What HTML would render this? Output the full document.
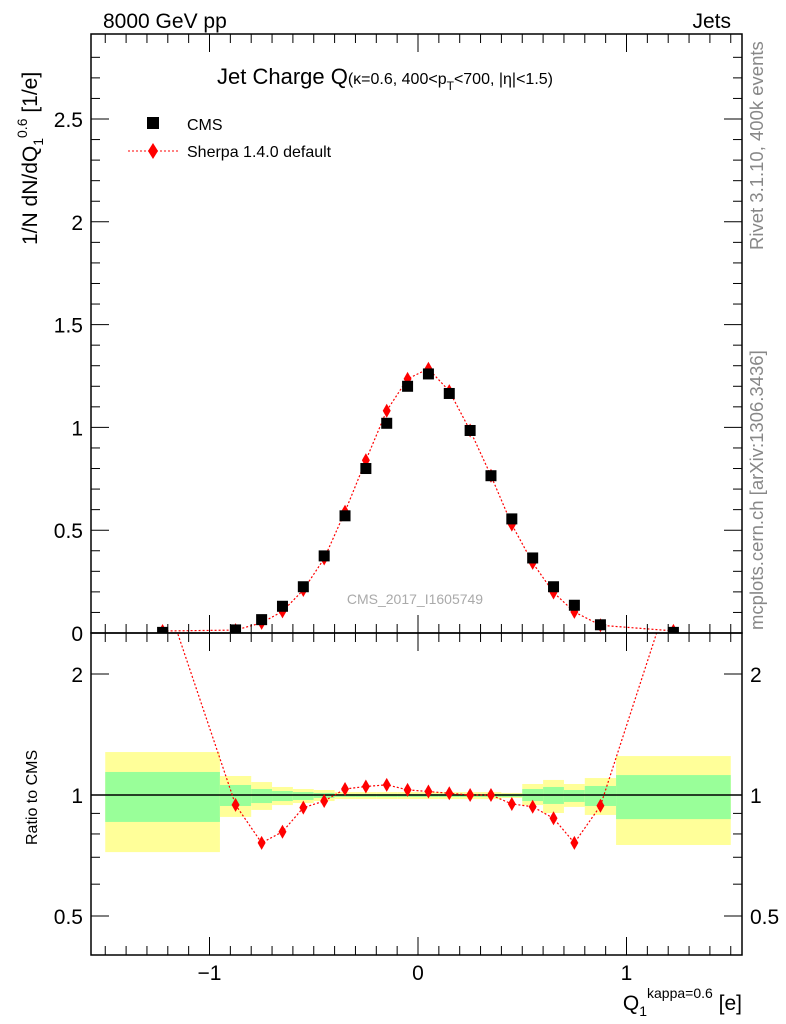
<!DOCTYPE html>
<html><head><meta charset="utf-8"><style>
body{margin:0;background:#fff;}
svg{display:block;font-family:"Liberation Sans",sans-serif;}
</style></head><body>
<svg id="c" width="786" height="1024" viewBox="0 0 786 1024">
<text x="103" y="28" font-size="21">8000 GeV pp</text>
<text x="731" y="28" font-size="21" text-anchor="end">Jets</text>
<text x="217" y="84" font-size="22">Jet Charge Q<tspan font-size="16">(κ=0.6, 400&lt;p</tspan><tspan font-size="12" dy="6">T</tspan><tspan font-size="16" dy="-6">&lt;700, |η|&lt;1.5)</tspan></text>
<text transform="translate(37,245) rotate(-90)" font-size="21">1/N dN/dQ<tspan font-size="14" dy="6">1</tspan><tspan font-size="14" dy="-16">0.6</tspan><tspan dy="10"> [1/e]</tspan></text>
<text transform="translate(37,845) rotate(-90)" font-size="16">Ratio to CMS</text>
<text transform="translate(763,250) rotate(-90)" font-size="18.5" fill="#888">Rivet 3.1.10,  400k events</text>
<text transform="translate(763,630) rotate(-90)" font-size="18.5" fill="#888">mcplots.cern.ch [arXiv:1306.3436]</text>
<text x="415" y="604" font-size="14" fill="#aaa" text-anchor="middle">CMS_2017_I1605749</text>
<text x="742" y="1010" font-size="21" text-anchor="end">Q<tspan font-size="14" dy="6">1</tspan><tspan font-size="14" dy="-18">kappa=0.6</tspan><tspan dy="12"> [e]</tspan></text>
<g>
<rect x="147" y="117" width="12" height="12" fill="#000"/>
<text x="187" y="130" font-size="16">CMS</text>
<line x1="128" y1="151" x2="178" y2="151" stroke="red" stroke-dasharray="2,2"/>
<polygon points="153,143 158,151 153,159 148,151" fill="red"/>
<text x="187" y="157" font-size="16">Sherpa 1.4.0 default</text>
</g>
</svg>
<script>
const binLo=[-1.5,-0.95,-0.8,-0.7,-0.6,-0.5,-0.4,-0.3,-0.2,-0.1,0,0.1,0.2,0.3,0.4,0.5,0.6,0.7,0.8,0.95];
const binHi=[-0.95,-0.8,-0.7,-0.6,-0.5,-0.4,-0.3,-0.2,-0.1,0,0.1,0.2,0.3,0.4,0.5,0.6,0.7,0.8,0.95,1.5];
const cmsVals=[0.003,0.015,0.065,0.13,0.225,0.375,0.57,0.80,1.02,1.20,1.26,1.165,0.985,0.765,0.555,0.365,0.225,0.135,0.04,0.003];
const sherpaRatio=[3.26,0.945,0.76,0.81,0.93,0.966,1.035,1.05,1.06,1.03,1.02,1.01,1.0,1.0,0.95,0.935,0.875,0.76,0.94,3.4];
const yelHi=[1.279,1.115,1.077,1.047,1.035,1.029,1.017,1.017,1.017,1.017,1.017,1.017,1.017,1.017,1.012,1.065,1.09,1.065,1.102,1.25];
const yelLo=[0.721,0.882,0.918,0.944,0.955,0.966,0.977,0.977,0.977,0.977,0.977,0.977,0.977,0.977,0.983,0.944,0.902,0.934,0.892,0.751];
const grnHi=[1.141,1.059,1.035,1.023,1.017,1.012,1.006,1.006,1.006,1.006,1.006,1.006,1.006,1.006,1.006,1.035,1.047,1.029,1.053,1.121];
const grnLo=[0.857,0.939,0.955,0.966,0.972,0.983,0.989,0.989,0.989,0.989,0.989,0.989,0.989,0.989,0.989,0.966,0.95,0.961,0.939,0.871];
const yTicks=[0,0.5,1,1.5,2,2.5];
const yTickLabels=["0","0.5","1","1.5","2","2.5"];
const rTicks=[0.5,1,2];
const rTickLabels=["0.5","1","2"];
const xTicks=[-1,0,1];
const xTickLabels=["\u22121","0","1"];

const L=91,R=742,T=34,MB=633,RB=955;
const X=v=>418+v*208.5;
const Y=v=>633-v*205.6;
const RY=v=>795-Math.log2(v)*121;
const svg=document.getElementById('c');
const NS='http://www.w3.org/2000/svg';
function mk(tag,at,parent){const e=document.createElementNS(NS,tag);for(const k in at)e.setAttribute(k,at[k]);(parent||svg).appendChild(e);return e;}

const bands=mk('g',{});


for(let i=0;i<binLo.length;i++){
  const y=mk('rect',{x:X(binLo[i]),y:RY(yelHi[i]),width:X(binHi[i])-X(binLo[i]),height:RY(yelLo[i])-RY(yelHi[i]),fill:'#ffff99'},bands);
  
  
  const g=mk('rect',{x:X(binLo[i]),y:RY(grnHi[i]),width:X(binHi[i])-X(binLo[i]),height:RY(grnLo[i])-RY(grnHi[i]),fill:'#99ff99'},bands);
  
  
}
const one=mk('line',{x1:L,x2:R,y1:RY(1),y2:RY(1),stroke:'#000','stroke-width':1.5});



const defs=mk('defs',{});
const c1=mk('clipPath',{id:'cm'},defs);mk('rect',{x:L,y:T,width:R-L,height:MB-T},c1);
const c2=mk('clipPath',{id:'cr'},defs);mk('rect',{x:L,y:MB,width:R-L,height:RB-MB},c2);

const centers=binLo.map((l,i)=>(l+binHi[i])/2);
const sm=mk('g',{'clip-path':'url(#cm)'});


const spts=centers.map((c,i)=>X(c)+','+Y(cmsVals[i]*sherpaRatio[i])).join(' ');
const sl=mk('polyline',{points:spts,fill:'none',stroke:'red','stroke-width':1.2,'stroke-dasharray':'2,2'},sm);


const cg=mk('g',{'clip-path':'url(#cm)'});


centers.forEach((c,i)=>{
  const r=mk('rect',{x:X(c)-5.5,y:Y(cmsVals[i])-5.5,width:11,height:11,fill:'#000'},cg);
  
  
});
centers.forEach((c,i)=>{
  const x=X(c),y=Y(cmsVals[i]*sherpaRatio[i]);
  const p=mk('polygon',{points:`${x},${y-7} ${x+4},${y} ${x},${y+7} ${x-4},${y}`,fill:'red'},sm);
  
  
});
const sr=mk('g',{'clip-path':'url(#cr)'});


const rl=mk('polyline',{points:centers.map((c,i)=>X(c)+','+RY(sherpaRatio[i])).join(' '),fill:'none',stroke:'red','stroke-width':1.2,'stroke-dasharray':'2,2'},sr);


centers.forEach((c,i)=>{
  const x=X(c),y=RY(sherpaRatio[i]);
  const p=mk('polygon',{points:`${x},${y-7} ${x+4},${y} ${x},${y+7} ${x-4},${y}`,fill:'red'},sr);
  
  
});

const f1=mk('rect',{x:L,y:T,width:R-L,height:MB-T,fill:'none',stroke:'#000','stroke-width':1.5});


const f2=mk('rect',{x:L,y:MB,width:R-L,height:RB-MB,fill:'none',stroke:'#000','stroke-width':1.5});



const tg=mk('g',{stroke:'#000','stroke-width':1});


for(let v=0;v<=2.9;v+=0.1){const y=Y(v);const maj=Math.abs(v*2-Math.round(v*2))<0.01;const len=maj?18:9;
  mk('line',{x1:L,x2:L+len,y1:y,y2:y},tg);mk('line',{x1:R,x2:R-len,y1:y,y2:y},tg);}
for(let v=-1.5;v<=1.55;v+=0.1){const x=X(v);const maj=Math.abs(v-Math.round(v))<0.01;const len=maj?18:9;
  [T,MB].forEach(b=>mk('line',{x1:x,x2:x,y1:b,y2:b+len},tg));[MB,RB].forEach(b=>mk('line',{x1:x,x2:x,y1:b,y2:b-len},tg));}
[0.5,0.6,0.7,0.8,0.9,1,2].forEach(v=>{const y=RY(v);const maj=rTicks.includes(v);const len=maj?18:9;
  mk('line',{x1:L,x2:L+len,y1:y,y2:y},tg);mk('line',{x1:R,x2:R-len,y1:y,y2:y},tg);});
yTicks.forEach((v,i)=>{const t=mk('text',{x:83,y:Y(v)+8,'font-size':21,'text-anchor':'end'});t.textContent=yTickLabels[i];
  });
rTicks.forEach((v,i)=>{const t=mk('text',{x:83,y:RY(v)+8,'font-size':21,'text-anchor':'end'});t.textContent=rTickLabels[i];
  
  const t2=mk('text',{x:750,y:RY(v)+8,'font-size':21});t2.textContent=rTickLabels[i];
  });
xTicks.forEach((v,i)=>{const t=mk('text',{x:X(v),y:980,'font-size':21,'text-anchor':'middle'});t.textContent=xTickLabels[i];
  });
</script>
</body></html>
